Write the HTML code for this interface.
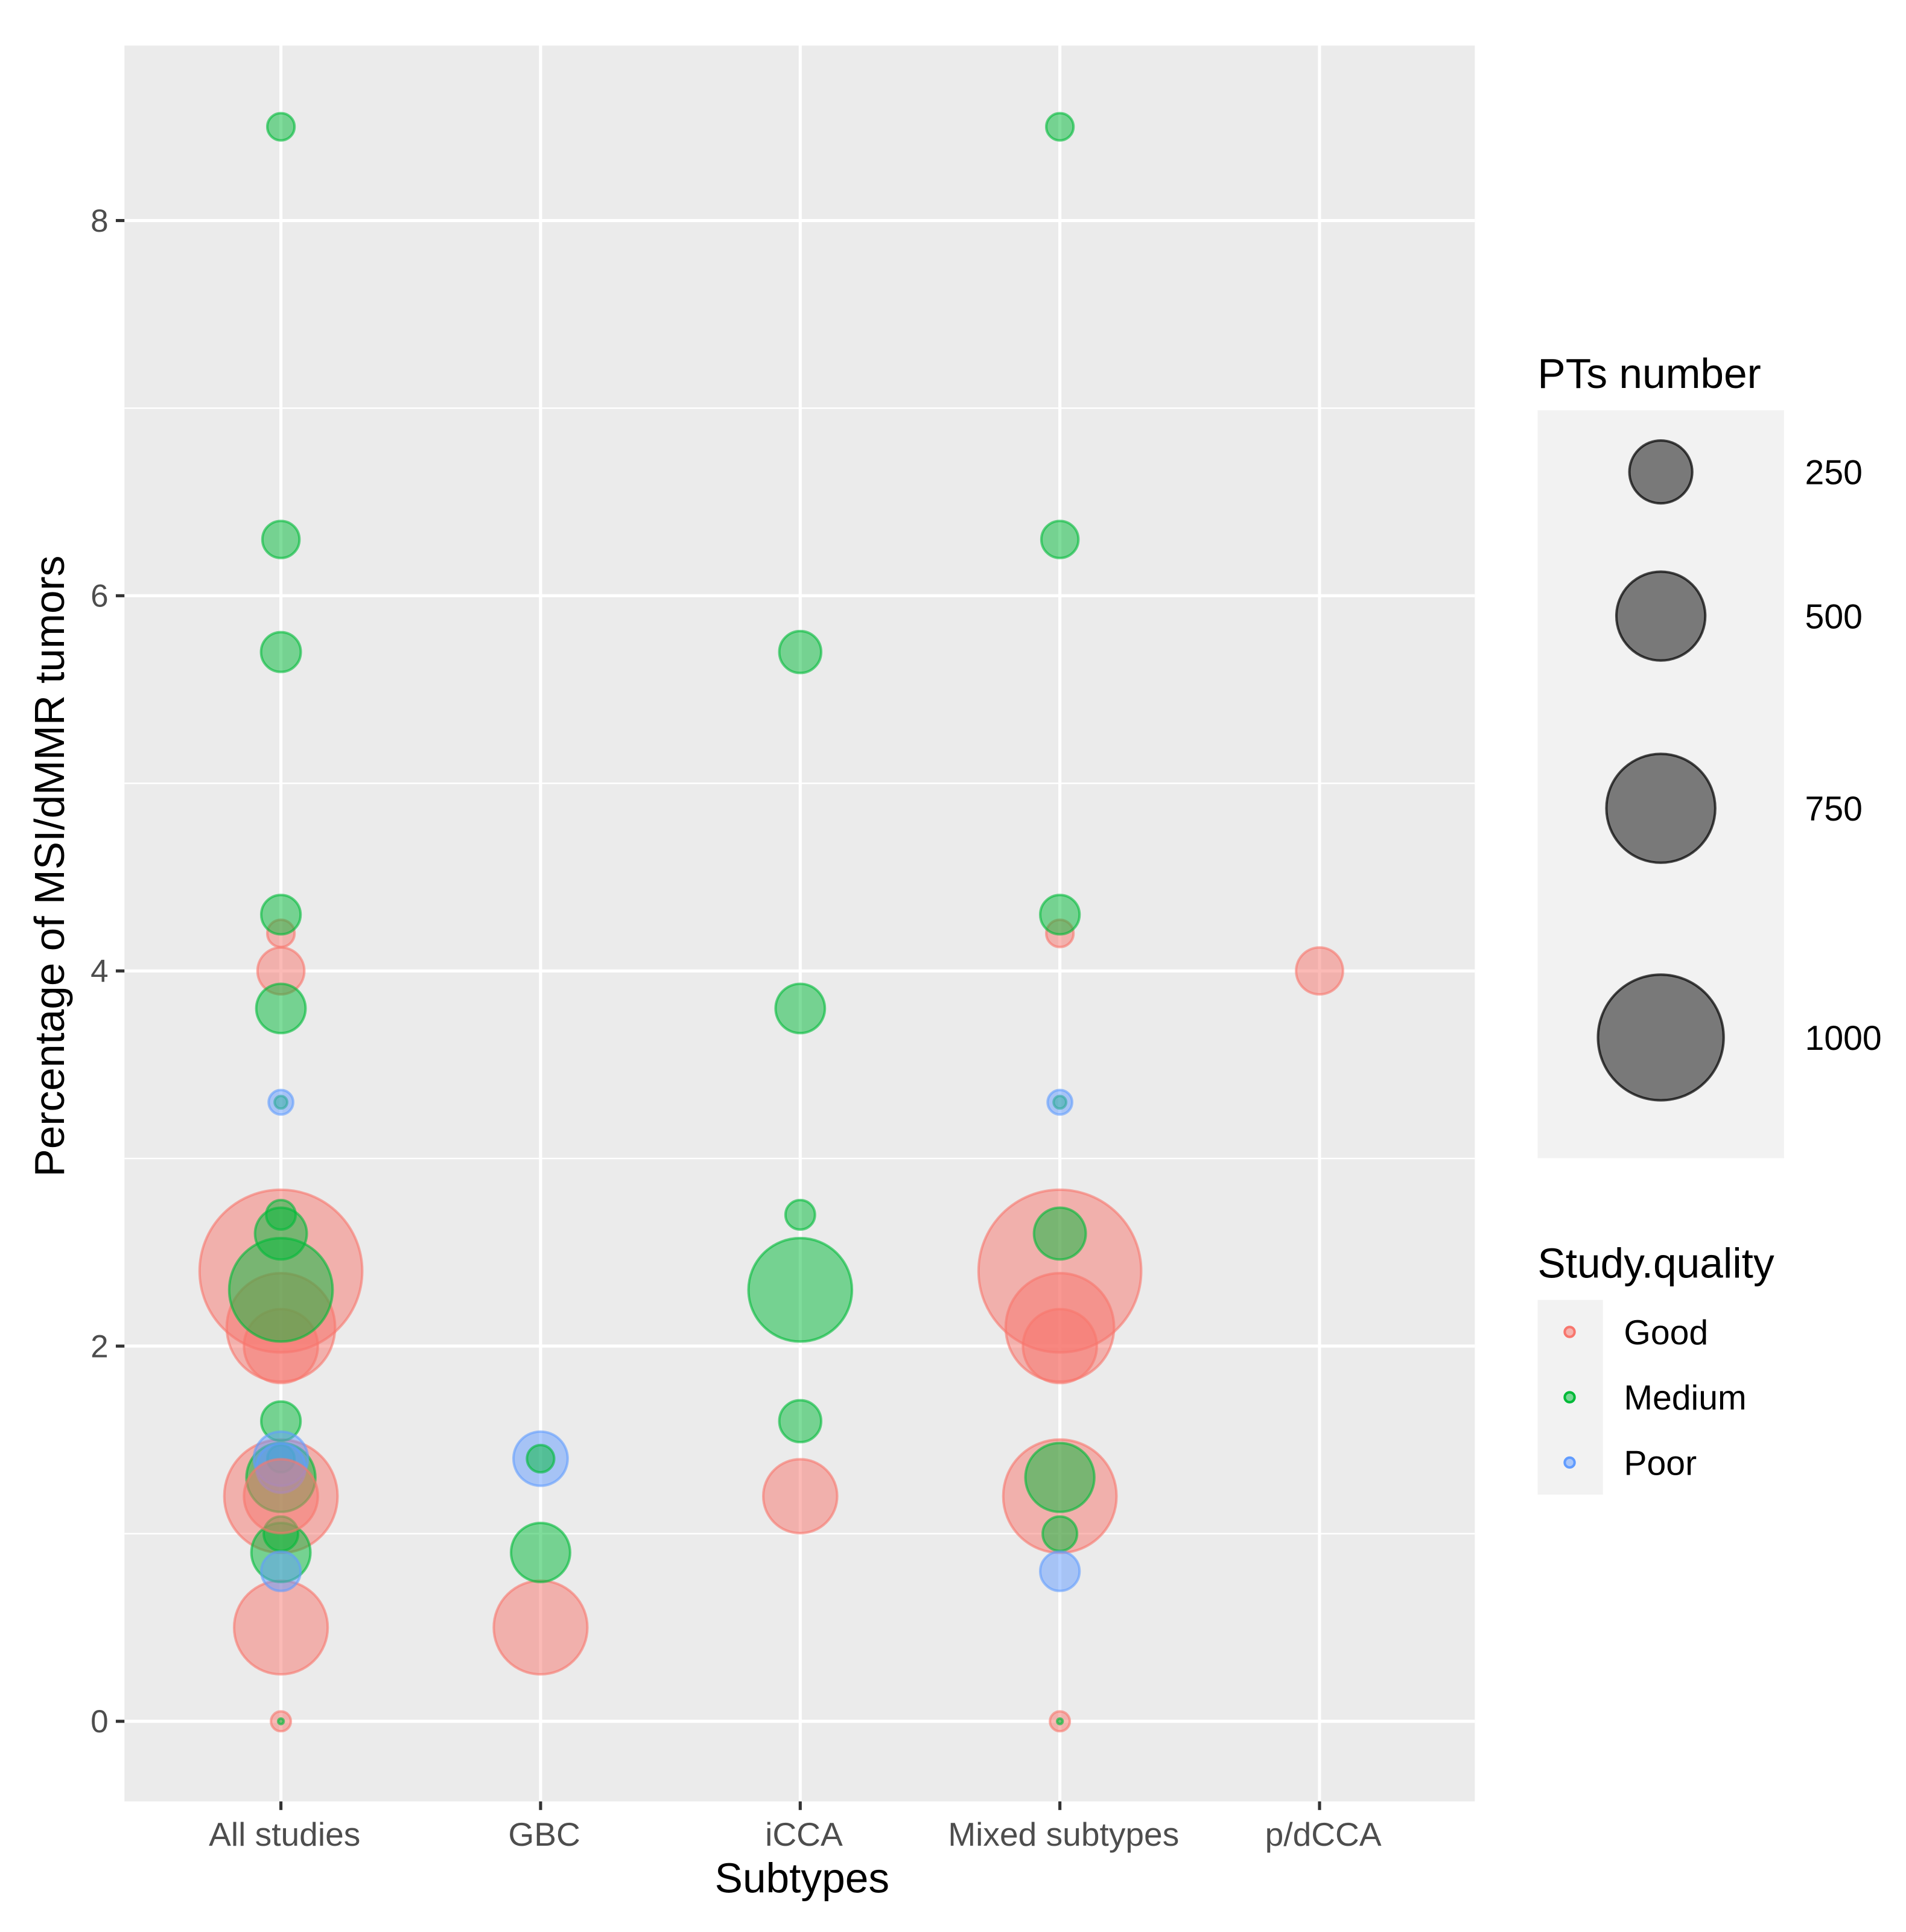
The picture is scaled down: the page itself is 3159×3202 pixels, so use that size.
<!DOCTYPE html>
<html><head><meta charset="utf-8"><style>
html,body{margin:0;padding:0;background:#fff}
svg{display:block;font-family:"Liberation Sans",Arial,sans-serif}
</style></head><body>
<svg id="chart" width="3159" height="3202" viewBox="0 0 1547 1568" preserveAspectRatio="none" xmlns="http://www.w3.org/2000/svg">
<rect width="1547" height="1568" fill="#fff"/>
<rect x="101" y="37" width="1096" height="1425" fill="#ebebeb"/>
<g id="grid"></g>
<g id="points"></g>
<g id="axes"></g>
<text x="651" y="1536" font-size="34" text-anchor="middle" fill="#000">Subtypes</text>
<text transform="translate(52,703) rotate(-90)" font-size="34" text-anchor="middle" fill="#000">Percentage of MSI/dMMR tumors</text>
<g>
<text x="1248" y="315" font-size="34">PTs number</text>
<rect x="1248" y="333" width="200" height="607" fill="#f2f2f2"/>
<g id="sizeLegend"></g>
</g>
<g>
<text x="1248" y="1037" font-size="34">Study.quality</text>
<rect x="1248" y="1055" width="53" height="158" fill="#f2f2f2"/>
<g id="colorLegend"></g>
</g>
</svg>
<script>
const categories = ["All studies","GBC","iCCA","Mixed subtypes","p/dCCA"];
const yTicks = [0,2,4,6,8];
const qualities = ["Good","Medium","Poor"];
const sizeBreaks = [250,500,750,1000];
// points: category index, percentage, quality index, patients
const ptCat =  [0,0,0,0,0,0,0,0,0,0,0,0,0,0,0,0,0,0,0,0,0,0,0,0,0,0,0,0, 1,1,1,1, 2,2,2,2,2,2, 3,3,3,3,3,3,3,3,3,3,3,3,3,3,3,3, 4];
const ptVal =  [2.4,2.1,1.2,0.5,2.0,4.0,0,4.2, 2.3,8.5,6.3,5.7,4.3,3.8,3.3,2.7,2.6,1.6,1.4,1.3,1.0,0.9,0, 1.4,1.35,3.3,0.8,1.2, 0.5,1.4,1.4,0.9, 2.3,5.7,3.8,2.7,1.6,1.2, 2.4,2.1,2.0,1.2,4.2,0, 8.5,6.3,4.3,2.6,1.3,1.0,3.3,0, 0.8,3.3, 4.0];
const ptQual = [0,0,0,0,0,0,0,0, 1,1,1,1,1,1,1,1,1,1,1,1,1,1,1, 2,2,2,2,0, 0,2,1,1, 1,1,1,1,1,0, 0,0,0,0,0,0, 1,1,1,1,1,1,1,1, 2,2, 0];
const ptN =    [1675,744,813,555,346,139,25,47, 678,47,87,100,98,154,10,55,170,98,47,301,75,221,2, 186,154,38,98,346, 555,186,47,221, 678,111,154,55,111,346, 1675,744,346,813,47,25, 47,87,98,170,301,75,10,2, 98,38, 139];

const colors = ["#F8766D","#00BA38","#619CFF"];
const NS="http://www.w3.org/2000/svg";
const X0=101,X1=1197,Y0=37,Y1=1462;
const xPos = i => 228 + i*210.75;
const yPos = v => 1397 - v*152.25;
const rOf = n => 51*Math.sqrt(n/1000);
function mk(tag, attrs, parent){const e=document.createElementNS(NS,tag);for(const k in attrs)e.setAttribute(k,attrs[k]);parent.appendChild(e);return e;}
const grid=document.getElementById('grid'), pts=document.getElementById('points'), axes=document.getElementById('axes');
for(let v=1; v<=9; v+=2){ const y=yPos(v); if(y<Y0)continue;
  const l=mk('line',{x1:X0,x2:X1,y1:y,y2:y,stroke:'#fff','stroke-width':1.2},grid);
    }
yTicks.forEach(v=>{ const y=yPos(v);
  const l=mk('line',{x1:X0,x2:X1,y1:y,y2:y,stroke:'#fff','stroke-width':2.5},grid);
   
  const t=mk('line',{x1:94,x2:101,y1:y,y2:y,stroke:'#333','stroke-width':2.5},axes);
   
  const tx=mk('text',{x:88,y:y+9,'font-size':26,'text-anchor':'end',fill:'#4d4d4d'},axes); tx.textContent=v;
   
});
categories.forEach((c,i)=>{ const x=xPos(i);
  const l=mk('line',{x1:x,x2:x,y1:Y0,y2:Y1,stroke:'#fff','stroke-width':2.5},grid);
   
  const t=mk('line',{x1:x,x2:x,y1:1462,y2:1469,stroke:'#333','stroke-width':2.5},axes);
   
  const tx=mk('text',{x:x+3,y:1498,'font-size':27,'text-anchor':'middle',fill:'#4d4d4d'},axes); tx.textContent=c;
   
});
ptCat.forEach((c,i)=>{ const col=colors[ptQual[i]];
  const p=mk('circle',{cx:xPos(c),cy:yPos(ptVal[i]),r:rOf(ptN[i]),fill:col,'fill-opacity':0.5,stroke:col,'stroke-opacity':0.6,'stroke-width':2},pts);
   
});
const sl=document.getElementById('sizeLegend');
const sy=[383,500,656,842];
sizeBreaks.forEach((n,i)=>{
  const c=mk('circle',{cx:1348,cy:sy[i],r:rOf(n),fill:'#000','fill-opacity':0.5,stroke:'#000','stroke-opacity':0.7,'stroke-width':2},sl);
   
  const t=mk('text',{x:1465,y:sy[i]+10,'font-size':28,fill:'#000'},sl); t.textContent=n;
   
});
const cl=document.getElementById('colorLegend');
qualities.forEach((q,i)=>{ const y=1081+i*53;
  const c=mk('circle',{cx:1274,cy:y,r:4,fill:colors[i],'fill-opacity':0.5,stroke:colors[i],'stroke-width':2},cl);
   
  const t=mk('text',{x:1318,y:y+10,'font-size':28,fill:'#000'},cl); t.textContent=q;
   
});
</script>
</body></html>
